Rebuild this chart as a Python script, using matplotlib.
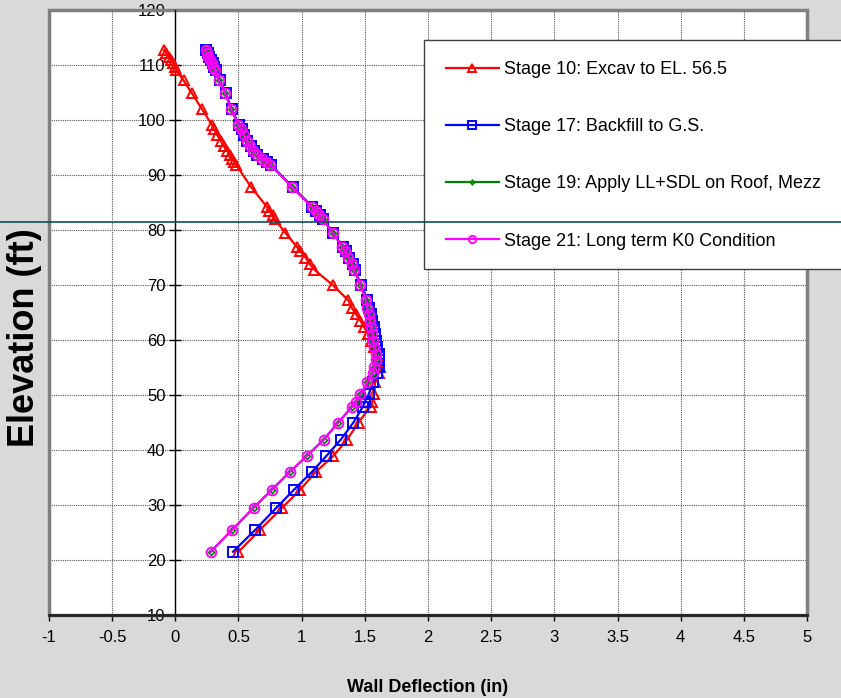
import matplotlib
matplotlib.use('Agg')
import matplotlib.pyplot as plt
from matplotlib.lines import Line2D
from matplotlib.patches import Rectangle

plt.rcParams['font.family'] = ['Liberation Sans', 'DejaVu Sans']

# wall node elevations (ft), shared by every stage
elev = [112.7, 112.1, 111.5, 110.9, 110.3, 109.7, 109.1, 107.2, 104.9, 102.0,
        99.1, 98.3, 97.3, 96.2, 95.2, 94.4, 93.7, 93.0, 92.4, 91.9,
        87.8, 84.2, 83.5, 82.7, 82.0, 79.5, 77.0, 76.1, 75.0, 73.8,
        72.8, 70.0, 67.2, 65.9, 64.7, 63.5, 62.3, 61.1, 59.9, 58.7,
        57.5, 56.3, 55.1, 54.0, 52.3, 50.1, 48.8, 47.9, 45.0, 41.9,
        38.9, 36.0, 32.8, 29.5, 25.5, 21.5]

# wall deflection (in) per construction stage
defl_s10 = [-0.09, -0.07, -0.05, -0.035, -0.02, -0.005, 0.005, 0.065, 0.13, 0.21,
            0.29, 0.305, 0.33, 0.36, 0.385, 0.41, 0.43, 0.45, 0.465, 0.48,
            0.60, 0.725, 0.745, 0.77, 0.785, 0.87, 0.96, 0.99, 1.03, 1.065,
            1.10, 1.245, 1.37, 1.395, 1.43, 1.465, 1.495, 1.525, 1.55, 1.575,
            1.60, 1.615, 1.62, 1.61, 1.58, 1.575, 1.56, 1.545, 1.45, 1.36,
            1.25, 1.11, 0.99, 0.845, 0.67, 0.50]

defl_s17 = [0.245, 0.255, 0.265, 0.28, 0.295, 0.305, 0.32, 0.35, 0.40, 0.445,
            0.505, 0.525, 0.545, 0.57, 0.595, 0.62, 0.65, 0.69, 0.725, 0.755,
            0.93, 1.085, 1.115, 1.145, 1.17, 1.25, 1.325, 1.35, 1.375, 1.405,
            1.42, 1.47, 1.52, 1.535, 1.55, 1.56, 1.57, 1.58, 1.59, 1.60,
            1.61, 1.615, 1.61, 1.60, 1.565, 1.53, 1.50, 1.485, 1.41, 1.31,
            1.195, 1.08, 0.94, 0.80, 0.633, 0.457]

defl_s19 = [0.24, 0.25, 0.26, 0.275, 0.29, 0.30, 0.315, 0.345, 0.395, 0.44,
            0.50, 0.52, 0.54, 0.565, 0.59, 0.615, 0.645, 0.685, 0.72, 0.75,
            0.925, 1.08, 1.11, 1.14, 1.165, 1.245, 1.32, 1.345, 1.37, 1.40,
            1.415, 1.465, 1.51, 1.52, 1.53, 1.54, 1.55, 1.56, 1.565, 1.575,
            1.585, 1.585, 1.575, 1.565, 1.52, 1.465, 1.43, 1.40, 1.29, 1.175,
            1.04, 0.905, 0.765, 0.62, 0.45, 0.28]

defl_s21 = [0.24, 0.25, 0.26, 0.275, 0.29, 0.30, 0.315, 0.345, 0.395, 0.44,
            0.50, 0.52, 0.54, 0.565, 0.59, 0.615, 0.645, 0.685, 0.72, 0.75,
            0.925, 1.08, 1.11, 1.14, 1.165, 1.245, 1.32, 1.345, 1.37, 1.40,
            1.415, 1.465, 1.51, 1.52, 1.53, 1.54, 1.55, 1.56, 1.565, 1.575,
            1.585, 1.585, 1.575, 1.565, 1.52, 1.465, 1.43, 1.40, 1.29, 1.175,
            1.04, 0.905, 0.765, 0.62, 0.45, 0.28]

stage_labels = ['Stage 10: Excav to EL. 56.5',
                'Stage 17: Backfill to G.S.',
                'Stage 19: Apply LL+SDL on Roof, Mezz',
                'Stage 21: Long term K0 Condition']

x_ticks = [-1, -0.5, 0, 0.5, 1, 1.5, 2, 2.5, 3, 3.5, 4, 4.5, 5]
x_tick_labels = ['-1', '-0.5', '0', '0.5', '1', '1.5', '2', '2.5', '3', '3.5', '4', '4.5', '5']
y_ticks = [10, 20, 30, 40, 50, 60, 70, 80, 90, 100, 110, 120]

fig = plt.figure(figsize=(8.41, 6.98), dpi=100, facecolor='#d9d9d9')
ax = fig.add_axes([49 / 841, 1 - 615 / 698, 758 / 841, 605 / 698])
ax.set_facecolor('white')

ax.plot(defl_s10, elev, color='#ff0000', lw=1.6, marker='^', ms=7, mfc='none',
        mec='#ff0000', mew=1.4, label=stage_labels[0], zorder=3)
ax.plot(defl_s17, elev, color='#0000ff', lw=1.6, marker='s', ms=7, mfc='none',
        mec='#0000ff', mew=1.4, label=stage_labels[1], zorder=4)
ax.plot(defl_s19, elev, color='#008000', lw=1.6, marker='D', ms=3, mfc='none',
        mec='#008000', mew=1.2, label=stage_labels[2], zorder=5)
ax.plot(defl_s21, elev, color='#ff00ff', lw=1.6, marker='o', ms=7, mfc='none',
        mec='#ff00ff', mew=1.4, label=stage_labels[3], zorder=6)

ax.set_xlim(-1, 5)
ax.set_ylim(10, 120)
ax.set_xticks(x_ticks)
ax.set_xticklabels(x_tick_labels)
ax.set_yticks(y_ticks)
ax.tick_params(axis='x', direction='out', length=4, width=1, labelsize=12, pad=7)
ax.tick_params(axis='y', direction='inout', length=8, width=1, labelsize=12, pad=3)

ax.grid(True, color='#555555', lw=0.8, linestyle=(0, (1, 1)))
ax.set_axisbelow(True)

ax.spines['left'].set_position(('data', 0))
ax.spines['left'].set_color('black')
ax.spines['left'].set_linewidth(1)
ax.spines['bottom'].set_color('#222222')
ax.spines['bottom'].set_linewidth(2)
ax.spines['top'].set_visible(False)
ax.spines['right'].set_visible(False)

# grey frame around the plotting area
ax.add_patch(Rectangle((0, 0), 1, 1, transform=ax.transAxes, fill=False,
                       edgecolor='#808080', lw=2.5, clip_on=False, zorder=1))

fig.text(25 / 841, 1 - 338 / 698, 'Elevation (ft)', rotation=90, fontsize=26,
         fontweight='bold', ha='center', va='center')
fig.text(428 / 841, 1 - 688 / 698, 'Wall Deflection (in)', fontsize=13,
         fontweight='bold', ha='center', va='center')

# legend box runs off the right edge of the figure
ax.add_patch(Rectangle((424 / 841, 1 - 269 / 698), 450 / 841, 229 / 698,
                       transform=fig.transFigure, facecolor='white',
                       edgecolor='#404040', lw=1, clip_on=False, zorder=15))
leg = ax.legend(loc='upper left', bbox_to_anchor=(430 / 841, 1 - 45 / 698),
                bbox_transform=fig.transFigure, fontsize=13, frameon=False,
                labelspacing=2.22, handlelength=2.9, handletextpad=0.28,
                borderpad=0.9, borderaxespad=0, markerscale=0.75)
leg.set_zorder(20)

fig.add_artist(Line2D([0, 1], [1 - 222 / 698, 1 - 222 / 698], transform=fig.transFigure,
                      color='#0f4b55', lw=1.2, zorder=30))

fig.savefig('out.png', dpi=100, facecolor=fig.get_facecolor())
